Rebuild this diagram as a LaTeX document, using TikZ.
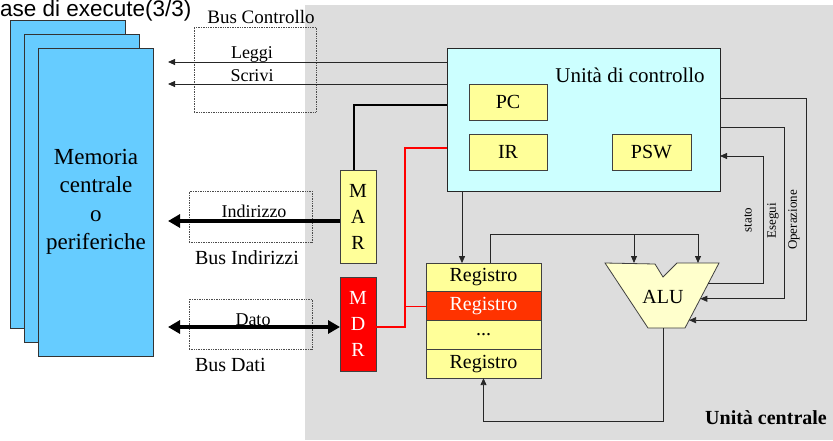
\documentclass[tikz,border=0pt]{standalone}
\usepackage{fontspec}
\setmainfont{Liberation Serif}
\newfontfamily\titlefont{Liberation Sans}
\usepackage{tikz}
\usetikzlibrary{arrows.meta, positioning, calc}
\definecolor{memblue}{HTML}{66CCFF}
\definecolor{cucyan}{HTML}{CCFFFF}
\definecolor{regyellow}{HTML}{FFFF99}
\definecolor{regred}{HTML}{FF3300}
\definecolor{mdrred}{HTML}{FF0000}
\definecolor{alucream}{HTML}{FFFFCC}
\definecolor{cpugray}{HTML}{DDDDDD}

\begin{document}
\begin{tikzpicture}[
  x=1pt, y=-1pt,
  every node/.style={inner sep=0pt, outer sep=0pt},
  big text/.style={font=\fontsize{20}{24}\selectfont},
  mid text/.style={font=\fontsize{18}{20}\selectfont},
  small text/.style={font=\fontsize{13}{14}\selectfont},
  mem sheet/.style={draw=black!80, fill=memblue, line width=0.8pt, minimum width=115, minimum height=308},
  bus box/.style={draw=black!70, densely dotted, line width=0.7pt},
  reg box/.style={draw=black!75, fill=regyellow, line width=0.8pt, big text},
  reg row/.style={reg box, minimum width=115, minimum height=28.75},
  sig/.style={draw=black!85, line width=0.8pt, -{Triangle[length=7pt,width=6pt]}},
  wire/.style={draw=black!85, line width=0.8pt},
  bus arrow/.style={line width=4pt, -{Triangle[length=12pt,width=13pt]}},
  alu shape/.style={draw=black!75, fill=alucream, line width=0.8pt}
]
\useasboundingbox (0,0) rectangle (833,440);
% area of the central unit
\fill[cpugray] (305,5) rectangle (833,440);
\node[anchor=base west, font=\titlefont\fontsize{22.5}{24}\selectfont] (title) at (0,16.5) {ase di execute(3/3)};

% memory / peripherals
\node[mem sheet] (mem3) at (67.5,174) {};
\node[mem sheet] (mem2) at (81.5,188) {};
\node[mem sheet, align=center, font=\fontsize{23}{28.5}\selectfont] (mem1) at (96,202)
  {Memoria\\centrale\\o\\periferiche};

% buses
\node[bus box, minimum width=122, minimum height=85] (busctl) at (255,69.5) {};
\node[bus box, minimum width=123, minimum height=51] (busind) at (250.5,216.5) {};
\node[bus box, minimum width=123, minimum height=50] (busdat) at (250.5,324) {};
\node[font=\fontsize{19}{20}\selectfont] (busctllabel) at (261,17) {Bus Controllo};
\node[big text, anchor=west] (busindlabel) at (195,258) {Bus Indirizzi};
\node[big text, anchor=west] (busdatlabel) at (195,365) {Bus Dati};

% control unit
\node[draw=black!85, fill=cucyan, line width=0.8pt, minimum width=273, minimum height=143] (cu) at (583.5,119.5) {};
\node[font=\fontsize{21}{24}\selectfont] (cutitle) at (630,75) {Unità di controllo};
\node[reg box, minimum width=78, minimum height=36] (pc) at (508,102) {PC};
\node[reg box, minimum width=78, minimum height=36] (ir) at (508,152) {IR};
\node[reg box, minimum width=79, minimum height=36] (psw) at (651.5,152) {PSW};

% MAR and MDR
\node[reg box, minimum width=36, minimum height=93, align=center, font=\fontsize{20}{26}\selectfont] (mar) at (358,216.5) {M\\A\\R};
\node[reg box, fill=mdrred, text=white, minimum width=36, minimum height=94, align=center, font=\fontsize{20}{26}\selectfont] (mdr) at (358,324) {M\\D\\R};

% register file
\node[reg row] (reg1) at (483.5,277.5) {Registro};
\node[reg row, fill=regred, text=white, below=0pt of reg1] (reg2) {Registro};
\node[reg row, below=0pt of reg2] (reg3) {...};
\node[reg row, below=0pt of reg3] (reg4) {Registro};

% ALU
\coordinate (alutl) at (605,263);
\coordinate (alunl) at (655,264);
\coordinate (alunb) at (663,277);
\coordinate (alunr) at (677,263);
\coordinate (alutr) at (719,263);
\coordinate (alubr) at (685,328);
\coordinate (alubl) at (648,328);
\filldraw[alu shape] (alutl) -- (alunl) -- (alunb) -- (alunr) -- (alutr) -- (alubr) -- (alubl) -- cycle;
\node[big text] (alu) at (663,297) {ALU};
\coordinate (alust) at ($(alutr)!0.32!(alubr)$);
\coordinate (aluex) at ($(alutr)!0.55!(alubr)$);
\coordinate (aluop) at ($(alutr)!0.88!(alubr)$);
\coordinate (aluina) at (634,263);
\coordinate (aluinb) at (698,263);
\coordinate (aluout) at (663,328);

% control bus
\coordinate (leggiend) at (168,62);
\coordinate (scriviend) at (168,84);
\draw[sig] (cu.west |- leggiend) -- (leggiend);
\draw[sig] (cu.west |- scriviend) -- (scriviend);
\node[mid text] (leggi) at (252,54) {Leggi};
\node[mid text] (scrivi) at (252,76) {Scrivi};

% address and data bus
\coordinate (indend) at (168,221);
\coordinate (datend) at (168,327);
\draw[bus arrow] (mar.west |- indend) -- (indend);
\draw[line width=4pt, {Triangle[length=12pt,width=13pt]}-{Triangle[length=12pt,width=13pt]}] (datend) -- (mdr.west |- datend);
\node[mid text] (indlabel) at (254,211) {Indirizzo};
\node[mid text] (datlabel) at (253,320) {Dato};

% internal wiring
\coordinate (marbend) at (354,105);
\draw[line width=2pt] (cu.west |- marbend) -| (mar.north -| marbend);
\coordinate (redbend) at (405,148);
\draw[mdrred, line width=1.5pt] (cu.west |- redbend) -| (redbend |- datend) -- (mdr.east |- datend);
\draw[mdrred, line width=1.5pt] (redbend |- reg2.west) -- (reg2.west);
\coordinate (regin) at (462,263);
\draw[sig] (cu.south -| regin) -- (reg1.north -| regin);
\coordinate (regbus) at (490,234);
\draw[wire] (reg1.north -| regbus) |- (aluinb |- regbus);
\draw[sig] (aluina |- regbus) -- (aluina);
\draw[sig] (aluinb |- regbus) -- (aluinb);
\coordinate (loopbot) at (663,421);
\draw[sig] (aluout) -- (loopbot) -| (reg4.south);

% control signals
\coordinate (opx) at (806,98);
\coordinate (esx) at (784,127);
\coordinate (stx) at (763,156);
\draw[sig] (cu.east |- opx) -| (opx |- aluop) -- (aluop);
\draw[sig] (cu.east |- esx) -| (esx |- aluex) -- (aluex);
\draw[sig] (alust) -| (stx) -- (cu.east |- stx);
\node[small text, rotate=90] (stato) at (748,220) {stato};
\node[small text, rotate=90] (esegui) at (773,221) {Esegui};
\node[small text, rotate=90] (operazione) at (794,220) {Operazione};

\node[font=\bfseries\fontsize{20}{24}\selectfont] (cpulabel) at (766,418) {Unità centrale};
\end{tikzpicture}
\end{document}
